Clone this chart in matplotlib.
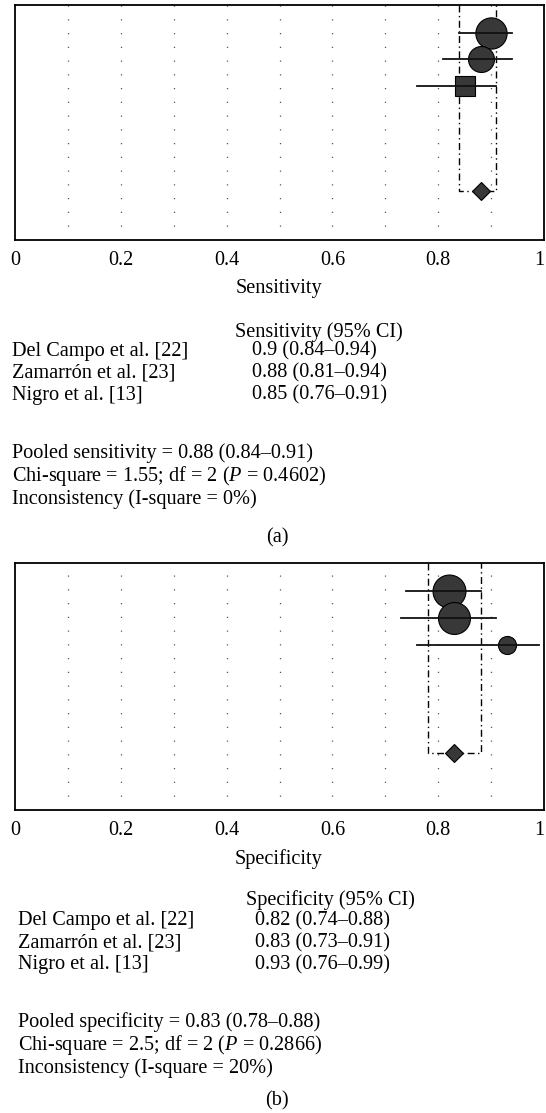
import matplotlib
matplotlib.use("Agg")
import matplotlib.pyplot as plt

# ---------------- data ----------------
studies = ["Del Campo et al. [22]", "Zamarrón et al. [23]", "Nigro et al. [13]"]

sens = [0.90, 0.88, 0.85]
sens_lo = [0.84, 0.81, 0.76]
sens_hi = [0.94, 0.94, 0.91]
sens_pooled = 0.88
sens_pooled_lo = 0.84
sens_pooled_hi = 0.91
sens_chi = "1.55"
sens_p = "0.4602"
sens_i2 = "0%"

spec = [0.82, 0.83, 0.93]
spec_lo = [0.74, 0.73, 0.76]
spec_hi = [0.88, 0.91, 0.99]
spec_pooled = 0.83
spec_pooled_lo = 0.78
spec_pooled_hi = 0.88
spec_chi = "2.5"
spec_p = "0.2866"
spec_i2 = "20%"

tick_vals = [0, 0.2, 0.4, 0.6, 0.8, 1]
tick_labels = ["0", "0.2", "0.4", "0.6", "0.8", "1"]
grid_vals = [0.1, 0.2, 0.3, 0.4, 0.5, 0.6, 0.7, 0.8, 0.9]

# ---------------- style ----------------
FONT = "Liberation Serif"
plt.rcParams["font.family"] = [FONT, "DejaVu Serif"]
plt.rcParams["mathtext.fontset"] = "custom"
plt.rcParams["mathtext.rm"] = FONT
plt.rcParams["mathtext.it"] = FONT + ":italic"
FS = 14.6
W, H = 546, 1113
DPI = 100
FILL = "#383838"

fig = plt.figure(figsize=(W / DPI, H / DPI), dpi=DPI)


def fy(y):
    return 1 - y / H


def fx(x):
    return x / W


def panel(top, bottom, est, lo, hi, pooled, plo, phi, markers, msizes, dsize,
          ylim_bottom, ylim_top):
    ax = fig.add_axes([fx(15), fy(bottom), fx(544) - fx(15), fy(top) - fy(bottom)])
    ax.set_xlim(0, 1)
    ax.set_ylim(ylim_bottom, ylim_top)
    for g in grid_vals:
        ax.axvline(g, color="#555555", lw=0.9, ls=(0, (1, 10)), zorder=0)
    rows = [1, 2, 3]
    # dash-dot rectangle for pooled CI
    ax.plot([plo, plo, phi, phi], [ylim_top, 7, 7, ylim_top], color="black",
            lw=1.0, ls=(0, (5, 2.5, 1, 2.5)), zorder=1, clip_on=False)
    for r, e, l, h, m, s in zip(rows, est, lo, hi, markers, msizes):
        ax.plot([e], [r], marker=m, ms=s, color=FILL, mec="black", mew=0.8,
                zorder=2, ls="none")
        ax.plot([l, h], [r, r], color="#111111", lw=1.3, zorder=3)
    ax.plot([pooled], [7], marker="D", ms=dsize, color=FILL, mec="black",
            mew=0.8, zorder=4, ls="none")
    ax.set_yticks([])
    ax.set_xticks(tick_vals)
    ax.set_xticklabels(tick_labels, fontsize=FS)
    ax.get_xticklabels()[-1].set_horizontalalignment("right")
    ax.tick_params(axis="x", length=0, pad=8)
    for sp in ax.spines.values():
        sp.set_linewidth(1.3)
    return ax


panel(5, 240, sens, sens_lo, sens_hi, sens_pooled, sens_pooled_lo, sens_pooled_hi,
      ["o", "o", "s"], [22.5, 18.7, 13.7], 9.2, 8.85, -0.06)
panel(563, 810, spec, spec_lo, spec_hi, spec_pooled, spec_pooled_lo, spec_pooled_hi,
      ["o", "o", "o"], [23.7, 23.0, 13.0], 9.5, 9.1, -0.04)


def fmt(v):
    return f"{v:g}"


def block(ys, xname, xval, xhead, label, head, est, lo, hi, pooled_line, chi, p, i2, tag):
    t = dict(fontsize=FS, va="center")
    y_label, y_head, y_rows, y_pool, y_chi, y_inc, y_tag = ys
    fig.text(fx(279), fy(y_label), label, ha="center", **t)
    fig.text(fx(xhead), fy(y_head), head, ha="left", **t)
    for y, s, e, l, h in zip(y_rows, studies, est, lo, hi):
        fig.text(fx(xname), fy(y), s, ha="left", **t)
        fig.text(fx(xval), fy(y), f"{fmt(e)} ({fmt(l)}–{fmt(h)})", ha="left", **t)
    fig.text(fx(xname), fy(y_pool), pooled_line, ha="left", **t)
    fig.text(fx(xname), fy(y_chi),
             f"Chi-square = {chi}; df = 2 ($\\it{{P}}$ = {p})", ha="left", **t)
    fig.text(fx(xname), fy(y_inc), f"Inconsistency (I-square = {i2})", ha="left", **t)
    fig.text(fx(277), fy(y_tag), tag, ha="center", **t)


block((289, 332, [351, 373, 395], 453, 476, 499, 538), 12, 252, 235,
      "Sensitivity", "Sensitivity (95% CI)", sens, sens_lo, sens_hi,
      f"Pooled sensitivity = {fmt(sens_pooled)} ({fmt(sens_pooled_lo)}–{fmt(sens_pooled_hi)})",
      sens_chi, sens_p, sens_i2, "(a)")
block((859, 900, [921, 943, 965], 1022, 1045, 1068, 1101), 18, 255, 246,
      "Specificity", "Specificity (95% CI)", spec, spec_lo, spec_hi,
      f"Pooled specificity = {fmt(spec_pooled)} ({fmt(spec_pooled_lo)}–{fmt(spec_pooled_hi)})",
      spec_chi, spec_p, spec_i2, "(b)")

fig.savefig("out.png", dpi=DPI)
